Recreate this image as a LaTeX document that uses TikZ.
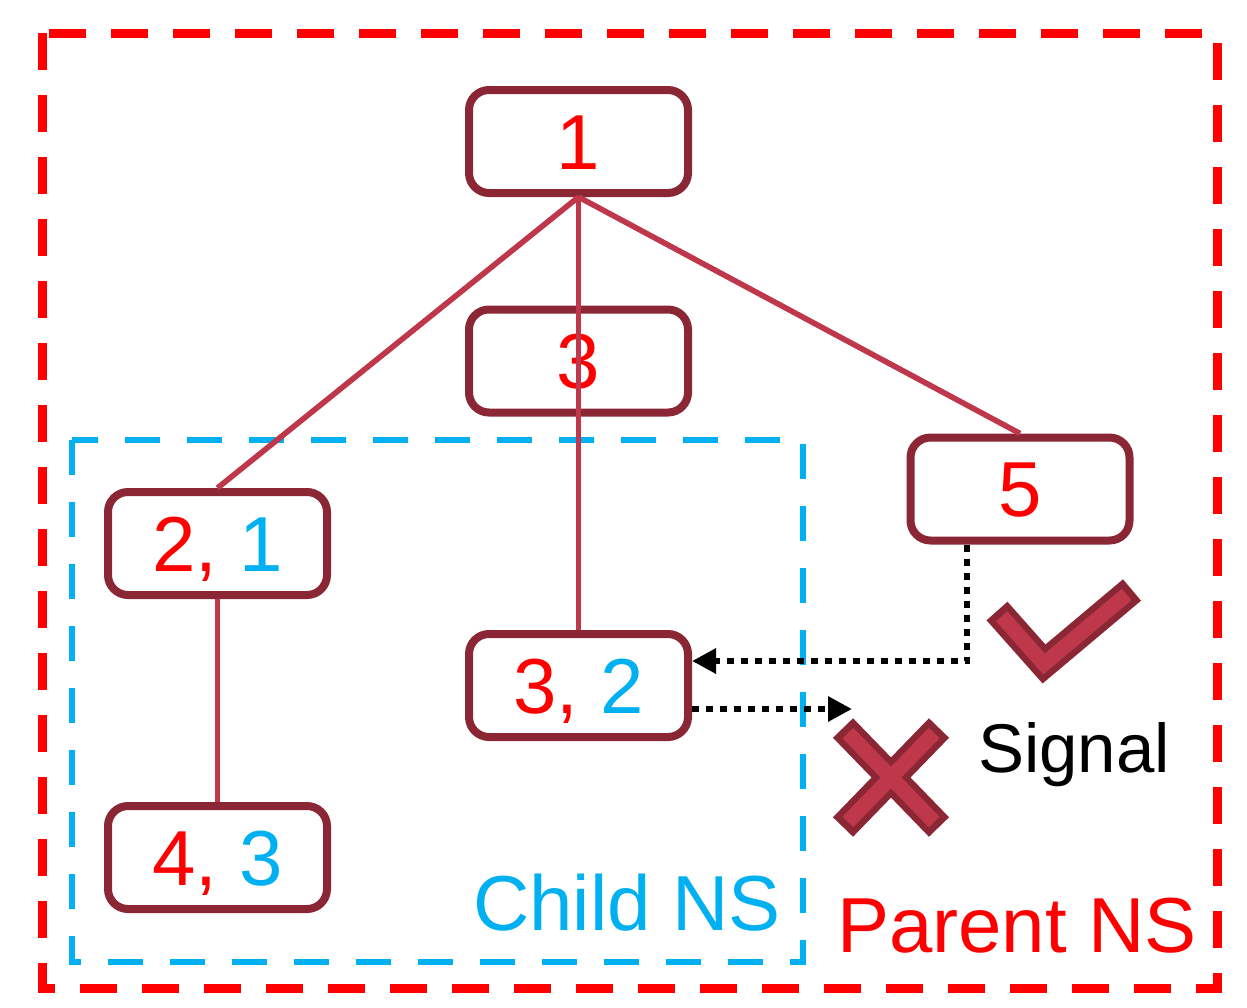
\documentclass[tikz,border=0pt]{standalone}
\usepackage{fontspec}
\setmainfont{Liberation Sans}
\usetikzlibrary{arrows.meta}
\definecolor{nsred}{RGB}{255,0,0}
\definecolor{nsblue}{RGB}{0,176,240}
\definecolor{boxline}{RGB}{139,38,53}
\definecolor{edgeline}{RGB}{190,55,75}

\begin{document}
\begin{tikzpicture}[x=0.5pt,y=-0.5pt]
\tikzstyle{every node}=[font=\fontsize{39}{47}\selectfont]
\tikzstyle{pid}=[draw=boxline,line width=4pt,rounded corners=10pt,minimum width=109.5pt,minimum height=51.5pt,inner sep=0pt,text height=27.9pt,text depth=0pt,text=nsred]
\tikzstyle{tree}=[edgeline,line width=2.8pt]
\tikzstyle{sig}=[line width=3pt,dash pattern=on 3.5pt off 3.5pt,-{Triangle[length=12pt,width=12pt]}]
\useasboundingbox (0,0) rectangle (1247,1007);
% namespaces
\draw[nsred,line width=4.5pt,dash pattern=on 18.5pt off 12.5pt] (42.5,33) rectangle (1217,988);
\draw[nsblue,line width=3pt,dash pattern=on 17.5pt off 13.5pt] (72,440) rectangle (803,962);
% processes
\node[pid] (p1) at (578.5,141.5) {1};
\node[pid] (p3) at (578.5,361) {3};
\node[pid] (p5) at (1020,489) {5};
\node[pid] (p21) at (217.5,543.5) {2, \textcolor{nsblue}{1}};
\node[pid] (p32) at (578.5,685.5) {3, \textcolor{nsblue}{2}};
\node[pid] (p43) at (217.5,857.5) {4, \textcolor{nsblue}{3}};
\draw[tree] (p1.south) -- (p21.north);
\draw[tree] (p1.south) -- (p32.north);
\draw[tree] (p1.south) -- (p5.north);
\draw[tree] (p21.south) -- (p43.north);
% signals
\coordinate (ok) at (967,661);
\coordinate (no) at (852,709);
\draw[sig] (p5.south -| ok) |- (p32.east |- ok);
\draw[sig] (p32.east |- no) -- (no);
% check and cross
\draw[boxline,line width=14pt,line join=miter] (997,611) -- (1044,664) -- (1132,590);
\draw[edgeline,line width=7.5pt,line join=miter,shorten <=3.5pt,shorten >=3.5pt] (997,611) -- (1044,664) -- (1132,590);
\draw[boxline,line width=14pt] (843,728) -- (939,827) (939,728) -- (843,827);
\draw[edgeline,line width=7.5pt,shorten <=3.5pt,shorten >=3.5pt] (843,728) -- (939,827);
\draw[edgeline,line width=7.5pt,shorten <=3.5pt,shorten >=3.5pt] (939,728) -- (843,827);
% labels
\node[anchor=base,font=\fontsize{34.5}{41}\selectfont] (signal) at (1074,772) {Signal};
\node[anchor=base,text=nsblue] (child) at (627,930) {Child NS};
\node[anchor=base,text=nsred] (parent) at (1017,952) {Parent NS};
\end{tikzpicture}
\end{document}
